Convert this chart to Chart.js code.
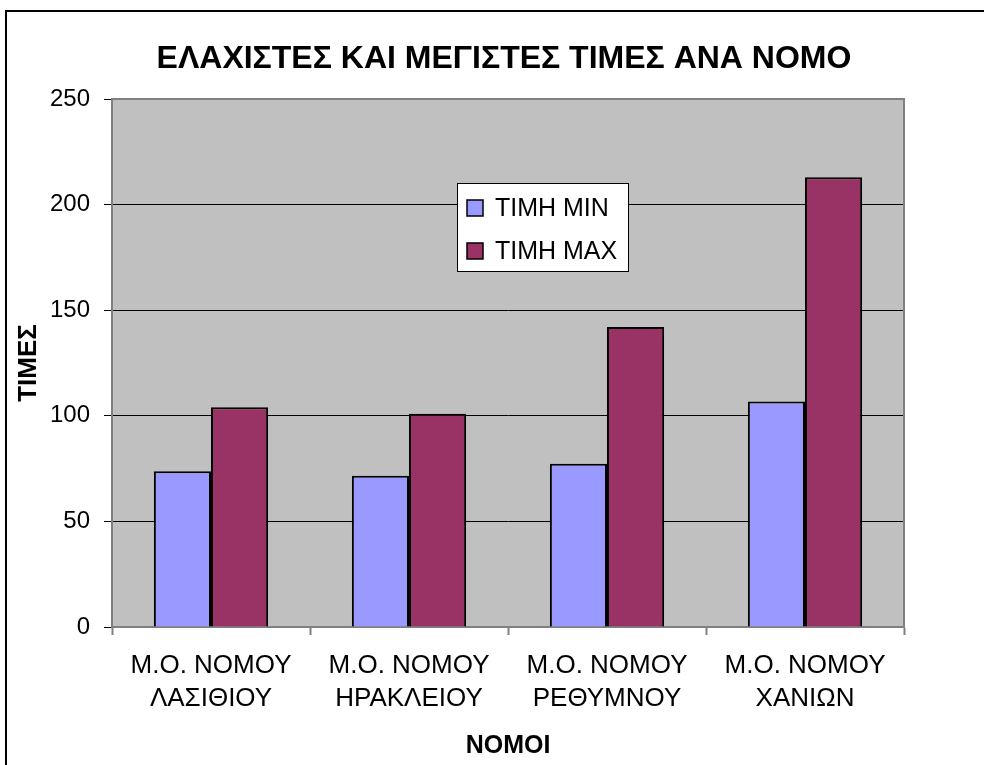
<!DOCTYPE html>
<html>
<head>
<meta charset="utf-8">
<script src="https://cdn.jsdelivr.net/npm/chart.js@4"></script>
<style>
  html, body { margin: 0; padding: 0; background: #fff; }
  #wrap { width: 984px; height: 765px; position: relative; }
</style>
</head>
<body>
<div id="wrap"><canvas id="chart" width="984" height="765"></canvas></div>
<script>
// Data
const categories = [
  ['Μ.Ο. ΝΟΜΟΥ', 'ΛΑΣΙΘΙΟΥ'],
  ['Μ.Ο. ΝΟΜΟΥ', 'ΗΡΑΚΛΕΙΟΥ'],
  ['Μ.Ο. ΝΟΜΟΥ', 'ΡΕΘΥΜΝΟΥ'],
  ['Μ.Ο. ΝΟΜΟΥ', 'ΧΑΝΙΩΝ']
];
const minValues = [73.7, 71.6, 77.3, 106.8];
const maxValues = [104, 101, 142, 213];
const seriesLabels = ['ΤΙΜΗ MIN', 'ΤΙΜΗ MAX'];
const yTicks = [0, 50, 100, 150, 200, 250];
const chartTitle = 'ΕΛΑΧΙΣΤΕΣ ΚΑΙ ΜΕΓΙΣΤΕΣ ΤΙΜΕΣ ΑΝΑ ΝΟΜΟ';

const FONT = '"Liberation Sans", Arial, sans-serif';

// White page, outer frame, grey plot background and the title
const backgroundPlugin = {
  id: 'background',
  beforeDraw(chart) {
    const { ctx, chartArea } = chart;
    ctx.save();
    ctx.fillStyle = '#ffffff';
    ctx.fillRect(0, 0, chart.width, chart.height);
    ctx.strokeStyle = '#000000';
    ctx.lineWidth = 2;
    ctx.strokeRect(6, 11, chart.width + 20, chart.height + 20);
    ctx.fillStyle = '#c0c0c0';
    ctx.fillRect(chartArea.left, chartArea.top,
      chartArea.right - chartArea.left, chartArea.bottom - chartArea.top);

    // title, centred on the whole frame like the original
    ctx.fillStyle = '#000000';
    ctx.font = 'bold 32px ' + FONT;
    ctx.textAlign = 'center';
    ctx.textBaseline = 'middle';
    ctx.fillText(chartTitle, 504, 59);
    ctx.restore();
  },
  afterDatasetsDraw(chart) {
    const { ctx, chartArea } = chart;
    ctx.save();
    ctx.strokeStyle = '#808080';
    ctx.lineWidth = 2;
    ctx.beginPath();
    ctx.moveTo(chartArea.left, chartArea.top);
    ctx.lineTo(chartArea.right, chartArea.top);
    ctx.lineTo(chartArea.right, chartArea.bottom);
    ctx.stroke();
    ctx.restore();
  }
};

// Legend box sitting inside the plot area
const boxLegendPlugin = {
  id: 'boxLegend',
  afterDraw(chart) {
    const { ctx } = chart;
    const x = 457, y = 183, w = 171, h = 88;
    ctx.save();
    ctx.fillStyle = '#ffffff';
    ctx.fillRect(x, y, w, h);
    ctx.strokeStyle = '#000000';
    ctx.lineWidth = 1;
    ctx.strokeRect(x + 0.5, y + 0.5, w, h);
    ctx.font = '25px ' + FONT;
    ctx.textBaseline = 'middle';
    ctx.textAlign = 'left';
    chart.data.datasets.forEach((ds, i) => {
      const cy = 208 + i * 43;
      ctx.fillStyle = ds.backgroundColor;
      ctx.fillRect(467, cy - 8, 16, 16);
      ctx.strokeStyle = '#000000';
      ctx.lineWidth = 1.5;
      ctx.strokeRect(467, cy - 8, 16, 16);
      ctx.fillStyle = '#000000';
      ctx.fillText(ds.label, 495, cy + 1);
    });
    ctx.restore();
  }
};

const ctx = document.getElementById('chart').getContext('2d');
new Chart(ctx, {
  type: 'bar',
  data: {
    labels: categories,
    datasets: [
      {
        label: seriesLabels[0],
        data: minValues,
        backgroundColor: '#9999ff',
        borderColor: '#000000',
        borderWidth: 2
      },
      {
        label: seriesLabels[1],
        data: maxValues,
        backgroundColor: '#993366',
        borderColor: '#000000',
        borderWidth: 2
      }
    ]
  },
  options: {
    responsive: false,
    animation: false,
    events: [],
    layout: { padding: { left: 0, right: 80, top: 99, bottom: 0 } },
    datasets: {
      bar: { categoryPercentage: 0.577, barPercentage: 1 }
    },
    plugins: {
      legend: { display: false },
      tooltip: { enabled: false },
      title: { display: false }
    },
    scales: {
      x: {
        afterFit(scale) { scale.height = 138; },
        grid: {
          display: true,
          offset: true,
          drawOnChartArea: false,
          drawTicks: true,
          tickLength: 8,
          tickColor: '#808080',
          tickWidth: 2
        },
        border: { display: true, color: '#808080', width: 2 },
        ticks: {
          color: '#000000',
          font: { family: FONT, size: 26, lineHeight: 1.28 },
          padding: 14,
          maxRotation: 0,
          autoSkip: false
        },
        title: {
          display: true,
          text: 'ΝΟΜΟΙ',
          color: '#000000',
          font: { family: FONT, size: 25, weight: 'bold', lineHeight: 1.2 },
          padding: { top: 0, bottom: 4 }
        }
      },
      y: {
        min: 0,
        max: 250,
        afterFit(scale) { scale.width = 112; },
        afterBuildTicks(scale) { scale.ticks = yTicks.map(v => ({ value: v })); },
        grid: {
          color: (c) => (c.tick && c.tick.value === 250 ? '#808080' : '#000000'),
          lineWidth: 1,
          drawTicks: true,
          tickLength: 8,
          tickColor: '#000000'
        },
        border: { display: true, color: '#808080', width: 2 },
        ticks: {
          color: '#000000',
          font: { family: FONT, size: 24 },
          padding: 14
        },
        title: {
          display: true,
          text: 'ΤΙΜΕΣ',
          color: '#000000',
          font: { family: FONT, size: 26, weight: 'bold', lineHeight: 1.2 },
          padding: { top: 13, bottom: 0 }
        }
      }
    }
  },
  plugins: [backgroundPlugin, boxLegendPlugin]
});
</script>
</body>
</html>
